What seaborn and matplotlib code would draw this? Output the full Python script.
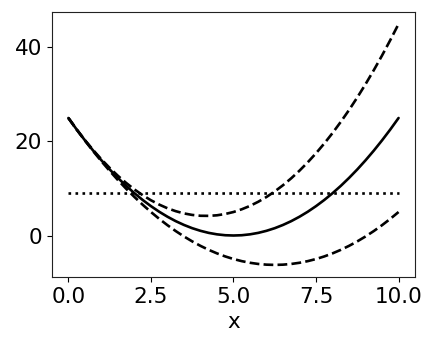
import numpy as np
import pandas as pd
import seaborn as sns
import matplotlib
matplotlib.use("Agg")
import matplotlib.pyplot as plt

# values
x = [0.0, 0.25, 0.5, 0.75, 1.0, 1.25, 1.5, 1.75, 2.0, 2.25, 2.5, 2.75, 3.0, 3.25,
     3.5, 3.75, 4.0, 4.25, 4.5, 4.75, 5.0, 5.25, 5.5, 5.75, 6.0, 6.25, 6.5, 6.75,
     7.0, 7.25, 7.5, 7.75, 8.0, 8.25, 8.5, 8.75, 9.0, 9.25, 9.5, 9.75, 10.0]
mean = [25, 22.56, 20.25, 18.06, 16, 14.06, 12.25, 10.56, 9, 7.56, 6.25, 5.06, 4, 3.06,
        2.25, 1.56, 1, 0.56, 0.25, 0.06, 0, 0.06, 0.25, 0.56, 1, 1.56, 2.25, 3.06,
        4, 5.06, 6.25, 7.56, 9, 10.56, 12.25, 14.06, 16, 18.06, 20.25, 22.56, 25]
upper = [25, 22.58, 20.3, 18.18, 16.2, 14.38, 12.7, 11.18, 9.8, 8.58, 7.5, 6.58, 5.8, 5.18,
         4.7, 4.38, 4.2, 4.18, 4.3, 4.58, 5, 5.58, 6.3, 7.18, 8.2, 9.38, 10.7, 12.18,
         13.8, 15.58, 17.5, 19.58, 21.8, 24.18, 26.7, 29.38, 32.2, 35.18, 38.3, 41.58, 45]
lower = [25, 22.55, 20.2, 17.95, 15.8, 13.75, 11.8, 9.95, 8.2, 6.55, 5, 3.55, 2.2, 0.95,
         -0.2, -1.25, -2.2, -3.05, -3.8, -4.45, -5, -5.45, -5.8, -6.05, -6.2, -6.25, -6.2, -6.05,
         -5.8, -5.45, -5, -4.45, -3.8, -3.05, -2.2, -1.25, -0.2, 0.95, 2.2, 3.55, 5]
level = [9] * len(x)

sns.set_style("ticks")
plt.rcParams["font.family"] = ["DejaVu Sans"]
plt.rcParams["text.color"] = "black"
plt.rcParams["axes.labelcolor"] = "black"
plt.rcParams["xtick.color"] = "black"
plt.rcParams["ytick.color"] = "black"

df = pd.DataFrame({"x": x, "mean": mean, "upper": upper, "lower": lower, "level": level})

fig = plt.figure(figsize=(4.36, 3.51), dpi=100)
ax = fig.add_axes([0.119, 0.211, 0.833, 0.755])

sns.lineplot(data=df, x="x", y="mean", color="black", lw=1.9, ax=ax)
sns.lineplot(data=df, x="x", y="upper", color="black", lw=1.9, ls="--", ax=ax)
sns.lineplot(data=df, x="x", y="lower", color="black", lw=1.9, ls="--", ax=ax)
sns.lineplot(data=df, x="x", y="level", color="black", lw=1.9, ls=":", ax=ax)

ax.set_xticks([0, 2.5, 5, 7.5, 10])
ax.set_yticks([0, 20, 40])
ax.set_xlabel("x", fontsize=15.5)
ax.set_ylabel("")
ax.tick_params(labelsize=15.5)
for s in ax.spines.values():
    s.set_color("#222222")

fig.savefig("out.png", dpi=100)
